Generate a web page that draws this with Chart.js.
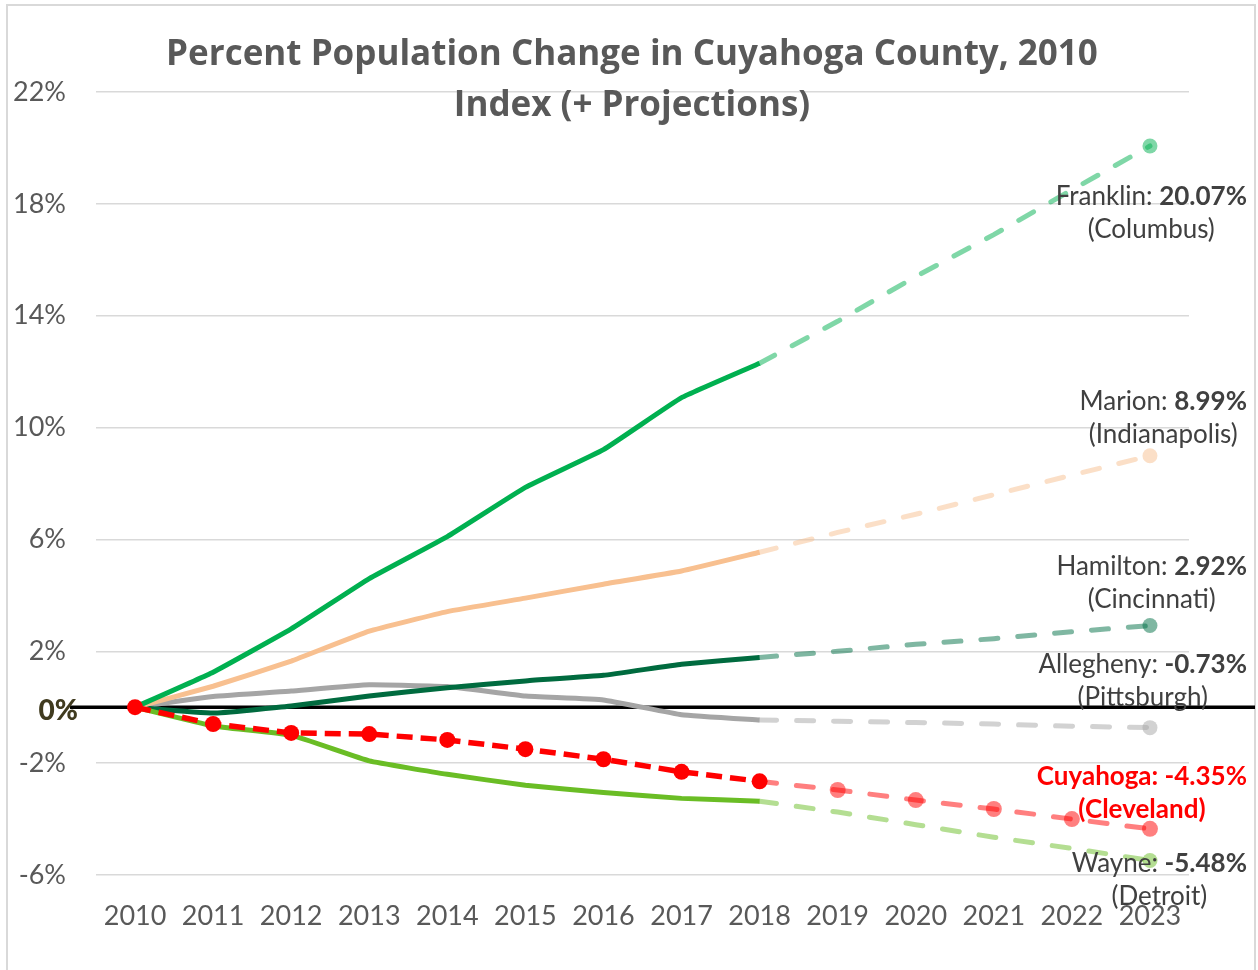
<!DOCTYPE html>
<html>
<head>
<meta charset="utf-8">
<script src="https://cdn.jsdelivr.net/npm/chart.js@4/dist/chart.umd.min.js"></script>
<style>
    html, body { margin: 0; padding: 0; background: #fff; }
    #popChart { display: block; }
</style>
</head>
<body>
<canvas id="popChart" width="1258" height="970"></canvas>
<script>
// Percent population change since 2010 (index)
const years = ['2010', '2011', '2012', '2013', '2014', '2015', '2016', '2017', '2018',
               '2019', '2020', '2021', '2022', '2023'];

// Actual values 2010-2018
const franklinActual  = [0, 1.25, 2.8, 4.6, 6.1, 7.86, 9.21, 11.07, 12.3];
const marionActual    = [0, 0.75, 1.65, 2.72, 3.42, 3.9, 4.4, 4.87, 5.54];
const hamiltonActual  = [0, -0.21, 0.04, 0.4, 0.7, 0.94, 1.14, 1.54, 1.78];
const alleghenyActual = [0, 0.38, 0.58, 0.8, 0.74, 0.4, 0.26, -0.27, -0.46];
const cuyahogaActual  = [0, -0.6, -0.92, -0.96, -1.17, -1.5, -1.86, -2.31, -2.65];
const wayneActual     = [0, -0.67, -1.0, -1.92, -2.4, -2.79, -3.05, -3.26, -3.36];

// Projections 2018-2023 (first value repeats 2018 so the dashed line joins up)
const franklinProj  = [12.3, 13.8, 15.4, 16.9, 18.5, 20.07];
const marionProj    = [5.54, 6.25, 6.9, 7.6, 8.3, 8.99];
const hamiltonProj  = [1.78, 2.0, 2.25, 2.45, 2.7, 2.92];
const alleghenyProj = [-0.46, -0.5, -0.55, -0.6, -0.68, -0.73];
const cuyahogaProj  = [-2.65, -2.96, -3.32, -3.64, -4.0, -4.35];
const wayneProj     = [-3.36, -3.75, -4.2, -4.65, -5.05, -5.48];

// Y axis ticks
const yTicks = [-6, -2, 2, 6, 10, 14, 18, 22];

// End-of-line labels
const endLabels = [
    { name: 'Franklin: ',  value: '20.07%', city: '(Columbus)',     proj: franklinProj,  dy: 51,  red: false },
    { name: 'Marion: ',    value: '8.99%',  city: '(Indianapolis)', proj: marionProj,    dy: -54, red: false },
    { name: 'Hamilton: ',  value: '2.92%',  city: '(Cincinnati)',   proj: hamiltonProj,  dy: -59, red: false },
    { name: 'Allegheny: ', value: '-0.73%', city: '(Pittsburgh)',   proj: alleghenyProj, dy: -63, red: false },
    { name: 'Cuyahoga: ',  value: '-4.35%', city: '(Cleveland)',    proj: cuyahogaProj,  dy: -52, red: true },
    { name: 'Wayne: ',     value: '-5.48%', city: '(Detroit)',      proj: wayneProj,     dy: 3,   red: false }
];

const LABEL_FONT = "'Lato', 'Open Sans', sans-serif";

// Pad actual series out to the full year range, projections in front with nulls
function actualData(arr) {
    return arr.concat(new Array(years.length - arr.length).fill(null));
}
function projData(arr) {
    return new Array(years.length - arr.length).fill(null).concat(arr);
}
// Only the last projected point gets a marker
function endMarker(radius) {
    return years.map((y, i) => (i === years.length - 1 ? radius : 0));
}

function actualSet(label, data, color) {
    return {
        label: label,
        data: actualData(data),
        borderColor: color,
        backgroundColor: color,
        borderWidth: 5,
        tension: 0.1,
        pointRadius: 0,
        spanGaps: false
    };
}

function projSet(label, data, color) {
    return {
        label: label + ' projection',
        data: projData(data),
        borderColor: color,
        backgroundColor: color,
        borderWidth: 5,
        borderDash: [17, 20],
        borderCapStyle: 'round',
        tension: 0,
        pointRadius: endMarker(7.5),
        pointBorderWidth: 0,
        pointBackgroundColor: color
    };
}

const datasets = [
    {
        label: 'Cuyahoga',
        data: actualData(cuyahogaActual),
        borderColor: '#FF0000',
        backgroundColor: '#FF0000',
        borderWidth: 5.5,
        borderDash: [16, 8],
        tension: 0,
        pointRadius: 8,
        pointBorderWidth: 0,
        pointBackgroundColor: '#FF0000'
    },
    {
        label: 'Cuyahoga projection',
        data: projData(cuyahogaProj),
        borderColor: 'rgba(255, 0, 0, 0.5)',
        backgroundColor: 'rgba(255, 0, 0, 0.5)',
        borderWidth: 5,
        borderDash: [17, 20],
        borderCapStyle: 'round',
        tension: 0,
        pointRadius: years.map((y, i) => (i > 8 ? 8 : 0)),
        pointBorderWidth: 0,
        pointBackgroundColor: 'rgba(255, 0, 0, 0.5)'
    },
    actualSet('Wayne', wayneActual, '#6ABD25'),
    projSet('Wayne', wayneProj, 'rgba(106, 189, 37, 0.5)'),
    actualSet('Franklin', franklinActual, '#00B050'),
    projSet('Franklin', franklinProj, 'rgba(0, 176, 80, 0.5)'),
    actualSet('Marion', marionActual, '#F8C090'),
    projSet('Marion', marionProj, 'rgba(248, 192, 144, 0.5)'),
    actualSet('Hamilton', hamiltonActual, '#006B3F'),
    projSet('Hamilton', hamiltonProj, 'rgba(0, 112, 70, 0.5)'),
    actualSet('Allegheny', alleghenyActual, '#A5A5A5'),
    projSet('Allegheny', alleghenyProj, 'rgba(165, 165, 165, 0.5)')
];

/**
 * Frame, title, zero line, bold 0% label and the end labels
 */
const decorPlugin = {
    id: 'decor',
    beforeDraw(chart) {
        const ctx = chart.ctx;
        ctx.save();
        ctx.fillStyle = '#fff';
        ctx.fillRect(0, 0, chart.width, chart.height);
        ctx.strokeStyle = '#D9D9D9';
        ctx.lineWidth = 2;
        ctx.strokeRect(7, 5, 1248, 975);
        ctx.restore();
    },
    beforeDatasetsDraw(chart) {
        const ctx = chart.ctx;
        const y0 = chart.scales.y.getPixelForValue(0);
        ctx.save();
        ctx.strokeStyle = '#000';
        ctx.lineWidth = 3.5;
        ctx.beginPath();
        ctx.moveTo(70, y0);
        ctx.lineTo(1255, y0);
        ctx.stroke();

        ctx.fillStyle = '#403B1F';
        ctx.font = "900 28px " + LABEL_FONT;
        ctx.textAlign = 'right';
        ctx.textBaseline = 'middle';
        ctx.fillText('0%', 78, y0 + 4);
        ctx.restore();
    },
    afterDatasetsDraw(chart) {
        const ctx = chart.ctx;
        const yScale = chart.scales.y;
        const rightEdge = 1247;
        ctx.save();
        ctx.textBaseline = 'middle';

        endLabels.forEach(lab => {
            const yPt = yScale.getPixelForValue(lab.proj[lab.proj.length - 1]);
            const y1 = yPt + lab.dy;
            const y2 = y1 + 33;
            const normal = "26px " + LABEL_FONT;
            const bold = "bold 26px " + LABEL_FONT;
            const color = lab.red ? '#FF0000' : '#404040';

            ctx.font = lab.red ? bold : normal;
            const wName = ctx.measureText(lab.name).width;
            ctx.font = bold;
            const wVal = ctx.measureText(lab.value).width;
            const startX = rightEdge - wName - wVal;

            ctx.fillStyle = color;
            ctx.textAlign = 'left';
            ctx.font = lab.red ? bold : normal;
            ctx.fillText(lab.name, startX, y1);
            ctx.font = bold;
            ctx.fillText(lab.value, startX + wName, y1);

            ctx.textAlign = 'center';
            ctx.font = lab.red ? bold : normal;
            ctx.fillText(lab.city, startX + (wName + wVal) / 2, y2);
        });

        ctx.restore();
    },
    afterDraw(chart) {
        const ctx = chart.ctx;
        ctx.save();
        ctx.fillStyle = '#595959';
        ctx.font = "bold 35px 'Open Sans', sans-serif";
        ctx.textAlign = 'center';
        ctx.textBaseline = 'middle';
        ctx.fillText('Percent Population Change in Cuyahoga County, 2010', 632, 55);
        ctx.fillText('Index (+ Projections)', 632, 106);
        ctx.restore();
    }
};

const popChart = new Chart(document.getElementById('popChart'), {
    type: 'line',
    data: {
        labels: years,
        datasets: datasets
    },
    options: {
        responsive: false,
        animation: false,
        devicePixelRatio: 1,
        layout: {
            padding: { top: 92, right: 69, left: 0, bottom: 0 }
        },
        plugins: {
            legend: { display: false },
            tooltip: { enabled: false },
            title: { display: false }
        },
        scales: {
            x: {
                type: 'category',
                offset: true,
                grid: { display: false, drawTicks: false },
                border: { display: false },
                ticks: {
                    color: '#595959',
                    font: { family: LABEL_FONT, size: 27 },
                    autoSkip: false,
                    maxRotation: 0,
                    padding: 25
                },
                afterFit(scale) { scale.height = 95; }
            },
            y: {
                min: -6,
                max: 22,
                afterBuildTicks(scale) {
                    scale.ticks = yTicks.map(v => ({ value: v }));
                },
                grid: { color: '#D9D9D9', lineWidth: 1.5, drawTicks: false },
                border: { display: false },
                ticks: {
                    color: '#595959',
                    font: { family: LABEL_FONT, size: 27 },
                    padding: 30,
                    callback: function(value) {
                        return value + '%';
                    }
                },
                afterFit(scale) { scale.width = 96; }
            }
        }
    },
    plugins: [decorPlugin]
});
</script>
</body>
</html>
